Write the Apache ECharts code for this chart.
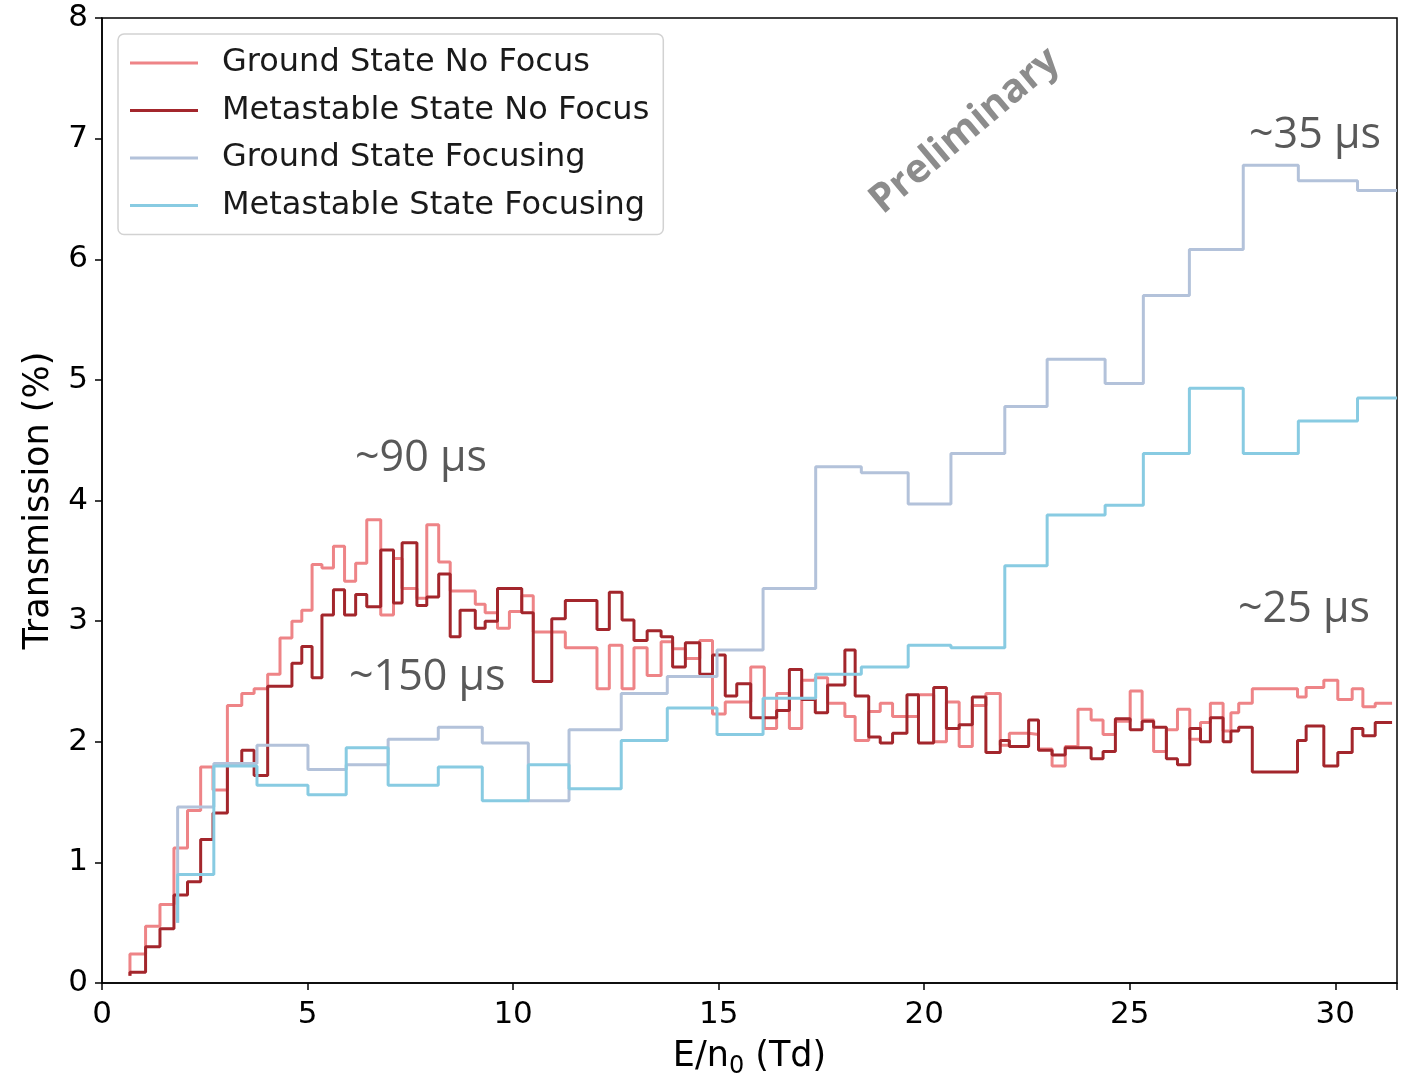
<!DOCTYPE html>
<html>
<head>
<meta charset="utf-8">
<script src="https://cdn.jsdelivr.net/npm/echarts/dist/echarts.min.js"></script>
<style>
  html,body{margin:0;padding:0;background:#fff;}
  #chart{width:1401px;height:1074px;}
</style>
</head>
<body>
<div id="chart"></div>
<script>
// 无聚焦两条曲线的分箱边界 (E/n0, Td)
var redEdges = [
  0.68,1.06,1.41,1.75,2.08,2.40,2.70,3.05,3.40,3.70,
  4.03,4.33,4.62,4.86,5.11,5.35,5.63,5.90,6.17,6.44,
  6.78,7.09,7.30,7.66,7.90,8.19,8.47,8.71,9.08,9.32,
  9.62,9.91,10.21,10.49,10.94,11.27,12.04,12.34,12.65,12.94,
  13.26,13.60,13.88,14.19,14.54,14.85,15.16,15.44,15.78,16.11,
  16.41,16.72,17.02,17.35,17.65,18.07,18.32,18.65,18.93,19.23,
  19.58,19.86,20.23,20.54,20.85,21.17,21.50,21.85,22.07,22.54,
  22.78,23.11,23.43,23.74,24.06,24.35,24.65,25.01,25.30,25.58,
  25.89,26.16,26.46,26.72,26.96,27.27,27.46,27.65,27.98,29.08,
  29.29,29.72,30.06,30.41,30.67,30.97,31.38
];
var groundNoFocus = [
  0.24,0.47,0.65,1.12,1.43,1.79,1.60,2.30,2.40,2.44,
  2.56,2.86,3.00,3.09,3.47,3.44,3.62,3.33,3.48,3.84,
  3.05,3.52,3.27,3.19,3.80,3.49,3.25,3.25,3.14,3.07,
  2.94,3.08,3.21,2.91,2.91,2.78,2.44,2.80,2.44,2.78,
  2.55,2.83,2.77,2.69,2.84,2.23,2.33,2.33,2.62,2.11,
  2.40,2.11,2.51,2.53,2.32,2.21,2.01,2.25,2.32,2.21,
  2.21,2.39,2.00,2.33,1.96,2.30,2.40,1.97,2.07,2.06,
  1.94,1.80,1.96,2.27,2.18,2.06,2.17,2.42,2.18,1.92,
  2.10,2.27,2.02,2.16,2.32,2.09,2.24,2.32,2.44,2.37,
  2.45,2.51,2.35,2.44,2.29,2.32
];
var metaNoFocus = [
  0.09,0.30,0.45,0.73,0.84,1.19,1.41,1.82,1.93,1.72,
  2.46,2.46,2.65,2.79,2.53,3.05,3.26,3.05,3.22,3.12,
  3.59,3.15,3.65,3.13,3.20,3.39,2.87,3.09,2.94,3.00,
  3.27,3.27,3.07,2.50,3.02,3.17,2.93,3.24,3.01,2.84,
  2.92,2.87,2.62,2.82,2.56,2.72,2.38,2.48,2.20,2.20,
  2.26,2.60,2.35,2.24,2.47,2.76,2.38,2.04,1.99,2.07,
  2.39,1.99,2.45,2.11,2.14,2.37,1.91,2.01,1.96,2.18,
  1.93,1.89,1.95,1.95,1.86,1.92,2.19,2.10,2.17,2.12,
  1.86,1.81,2.11,2.00,2.20,2.00,2.09,2.12,1.75,2.01,
  2.13,1.80,1.91,2.11,2.05,2.16
];
var redStart = 0.06;

// 聚焦两条曲线的分箱边界
var focusEdges = [
  1.84,2.72,3.77,5.01,5.94,6.96,8.18,9.25,10.37,11.36,
  12.63,13.75,14.96,16.08,17.36,18.47,19.61,20.65,21.96,22.99,
  24.40,25.33,26.45,27.76,29.10,30.54,31.5
];
var groundFocus = [
  1.46,1.82,1.97,1.77,1.81,2.02,2.12,1.99,1.51,2.10,
  2.40,2.54,2.76,3.27,4.28,4.23,3.97,4.39,4.78,5.17,
  4.97,5.70,6.08,6.78,6.65,6.57
];
var metaFocus = [
  0.90,1.80,1.64,1.56,1.95,1.64,1.79,1.51,1.81,1.61,
  2.01,2.28,2.06,2.36,2.56,2.62,2.80,2.78,3.46,3.88,
  3.96,4.39,4.93,4.39,4.66,4.85
];
var focusStart = 0.5;

var names = ['Ground State No Focus','Metastable State No Focus','Ground State Focusing','Metastable State Focusing'];
var colors = ['#ee8487','#a3262c','#b3c2da','#88cbe2'];
var xTicks = [0,5,10,15,20,25,30];
var yTicks = [0,1,2,3,4,5,6,7,8];

//直方图台阶: 第一个点是起始值, 后面每个点是右边界+该箱的值
function stepData(edges, vals, start){
  var arr = [[edges[0], start]];
  for(var i = 0; i < vals.length; i++) {
    arr.push([edges[i+1], vals[i]]);
  }
  return arr;
}

function makeSeries(idx, edges, vals, start){
  return {
    name: names[idx],
    type: 'line',
    step: 'start',
    symbol: 'none',
    animation: false,
    data: stepData(edges, vals, start),
    lineStyle: {color: colors[idx], width: 3},
    itemStyle: {color: colors[idx]}
  };
}

var chart = echarts.init(document.getElementById('chart'));
var font = 'DejaVu Sans';
var noteStyle = {fontFamily: 'Open Sans', fontSize: 43, fill: '#595959'};

var option = {
  backgroundColor: '#fff',
  animation: false,
  grid: {
    left: 102, right: 4, top: 18, bottom: 91,
    outerBoundsMode: 'none', containLabel: false,
    show: true, borderColor: '#000', borderWidth: 1.5, backgroundColor: 'transparent'
  },
  legend: {
    orient: 'vertical',
    left: 118, top: 34,
    padding: [13, 14, 13, 12],
    icon: 'rect',
    itemWidth: 68, itemHeight: 2.8, itemGap: 15.5,
    backgroundColor: 'rgba(255,255,255,0.85)',
    borderColor: '#d2d2d2', borderWidth: 1.5, borderRadius: 6,
    textStyle: {fontFamily: font, fontSize: 32, color: '#1a1a1a', padding: [0, 0, 0, 19]},
    data: names
  },
  xAxis: {
    type: 'value',
    min: 0, max: 31.5, interval: 5,
    name: 'E/n{sub|0} (Td)',
    nameLocation: 'middle',
    nameGap: 49,
    nameTextStyle: {
      fontFamily: font, fontSize: 35, color: '#000', lineHeight: 44,
      rich: {sub: {fontFamily: font, fontSize: 24, verticalAlign: 'bottom', lineHeight: 44, color: '#000'}}
    },
    axisLine: {lineStyle: {color: '#000', width: 1.5}},
    axisTick: {length: 7, lineStyle: {color: '#000', width: 1.5}},
    axisLabel: {
      fontFamily: font, fontSize: 31, color: '#000', margin: 16,
      formatter: function(v){ return xTicks.indexOf(v) != -1 ? String(v) : ''; }
    },
    splitLine: {show: false}
  },
  yAxis: {
    type: 'value',
    min: 0, max: 8, interval: 1,
    name: 'Transmission (%)',
    nameLocation: 'middle',
    nameGap: 46,
    nameTextStyle: {fontFamily: font, fontSize: 35, color: '#000'},
    axisLine: {show: true, lineStyle: {color: '#000', width: 1.5}},
    axisTick: {show: true, length: 7, lineStyle: {color: '#000', width: 1.5}},
    axisLabel: {
      fontFamily: font, fontSize: 31, color: '#000', margin: 14,
      formatter: function(v){ return yTicks.indexOf(v) != -1 ? String(v) : ''; }
    },
    splitLine: {show: false}
  },
  series: [
    makeSeries(0, redEdges, groundNoFocus, redStart),
    makeSeries(1, redEdges, metaNoFocus, redStart),
    makeSeries(2, focusEdges, groundFocus, focusStart),
    makeSeries(3, focusEdges, metaFocus, focusStart)
  ],
  graphic: [
    {type: 'text', left: 355, top: 437, z: 10, style: echarts.util.extend({text: '~90 µs'}, noteStyle)},
    {type: 'text', left: 349, top: 656, z: 10, style: echarts.util.extend({text: '~150 µs'}, noteStyle)},
    {type: 'text', left: 1249, top: 114, z: 10, style: echarts.util.extend({text: '~35 µs'}, noteStyle)},
    {type: 'text', left: 1238, top: 588, z: 10, style: echarts.util.extend({text: '~25 µs'}, noteStyle)},
    {
      type: 'text', x: 965, y: 131, rotation: 40 * Math.PI / 180, z: 10,
      style: {text: 'Preliminary', fontFamily: 'Open Sans', fontWeight: 'bold', fontSize: 40, fill: '#8c8c8c', align: 'center', verticalAlign: 'middle'}
    }
  ]
};
chart.setOption(option);
</script>
</body>
</html>
